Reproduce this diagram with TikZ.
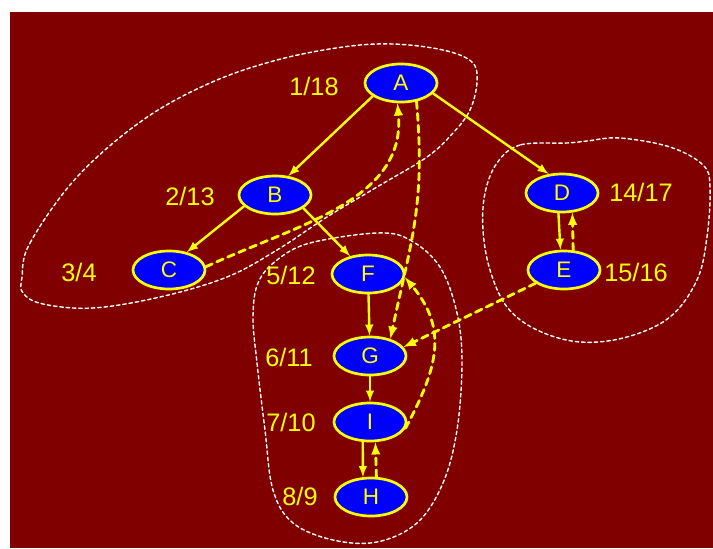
\documentclass[tikz,border=0pt]{standalone}
\usepackage{fontspec}
\setmainfont{Liberation Sans}
\usetikzlibrary{shapes.geometric}
\definecolor{maroonbg}{RGB}{128,0,0}
\definecolor{nodeblue}{RGB}{0,0,255}
\definecolor{dfsyellow}{RGB}{255,255,0}
\begin{document}
\begin{tikzpicture}[x=0.025cm, y=-0.025cm, line join=round, line cap=round, >=latex,
	vertex/.style={ellipse, draw=dfsyellow, fill=nodeblue, line width=1.9pt,
		minimum width=1.8cm, minimum height=0.95cm, inner sep=0pt,
		text=dfsyellow, font=\fontsize{16}{18}\selectfont},
	stamp/.style={text=dfsyellow, font=\fontsize{18}{20}\selectfont},
	tree/.style={->, dfsyellow, line width=1.7pt},
	back/.style={->, dfsyellow, line width=2pt, dash pattern=on 5pt off 3.5pt},
	region/.style={white, line width=1pt, dash pattern=on 2.5pt off 2pt}]
	% Khung nen
	\useasboundingbox (0,0) rectangle (713,548);
	\fill[maroonbg] (10,12) rectangle (713,548);
	% Cac vung lien thong manh
	\draw[region] plot[smooth cycle, tension=0.6] coordinates {(22,277) (30,243) (77,177) (143,120)
		(210,83) (277,60) (343,47) (393,44) (443,50) (472,62) (477,82) (470,110) (453,133)
		(427,157) (377,187) (327,217) (277,250) (227,277) (160,297) (93,308) (43,304) (23,293)};
	\draw[region] plot[smooth cycle, tension=0.6] coordinates {(377,233) (410,240) (440,267)
		(457,313) (462,363) (457,430) (443,483) (417,523) (377,542) (333,540) (293,523)
		(273,490) (265,430) (257,363) (253,317) (258,283) (277,260) (310,243)};
	\draw[region] plot[smooth cycle, tension=0.6] coordinates {(567,143) (520,145) (497,163)
		(485,193) (483,230) (490,270) (507,307) (537,330) (580,342) (627,337) (670,317)
		(697,280) (707,237) (710,187) (703,165) (670,147) (620,138) (587,141)};
	% Cac dinh
	\node[vertex] (A) at (401,83) {A};
	\node[vertex] (B) at (275,195) {B};
	\node[vertex] (C) at (169,270) {C};
	\node[vertex] (D) at (562,193) {D};
	\node[vertex] (E) at (564,270) {E};
	\node[vertex] (F) at (368,274) {F};
	\node[vertex] (G) at (370,356) {G};
	\node[vertex] (I) at (370,422) {I};
	\node[vertex] (H) at (371,497) {H};
	% Thoi diem tham / ket thuc
	\node[stamp] (tA) at (314,86) {1/18};
	\node[stamp] (tB) at (190,196) {2/13};
	\node[stamp] (tC) at (79,272) {3/4};
	\node[stamp] (tF) at (291,275) {5/12};
	\node[stamp] (tG) at (289,357) {6/11};
	\node[stamp] (tI) at (291,422) {7/10};
	\node[stamp] (tH) at (300,496) {8/9};
	\node[stamp] (tD) at (641,192) {14/17};
	\node[stamp] (tE) at (636,272) {15/16};
	% Cung cay DFS
	\draw[tree] (A.205) -- (B.55);
	\draw[tree] (A.-18) -- (D.125);
	\draw[tree] (B.200) -- (C.45);
	\draw[tree] (B.-25) -- (F.135);
	\draw[tree] (F) -- (G);
	\draw[tree] (G) -- (I);
	\draw[tree] (I.-110) -- (H.112);
	\draw[tree] (D.-100) -- (E.100);
	% Cung nguoc va cung cheo
	\draw[back] (C.5) to[out=25, in=-85] (A.-100);
	\draw[back] (A.-50) to[out=-85, in=78, looseness=1.1] (G.40);
	\draw[back] (E.205) -- (G.15);
	\draw[back] (I.-10) to[out=62, in=-50, looseness=1.15] (F.-5);
	\draw[back] (H.75) -- (I.-75);
	\draw[back] (E.65) -- (D.-62);
\end{tikzpicture}
\end{document}
